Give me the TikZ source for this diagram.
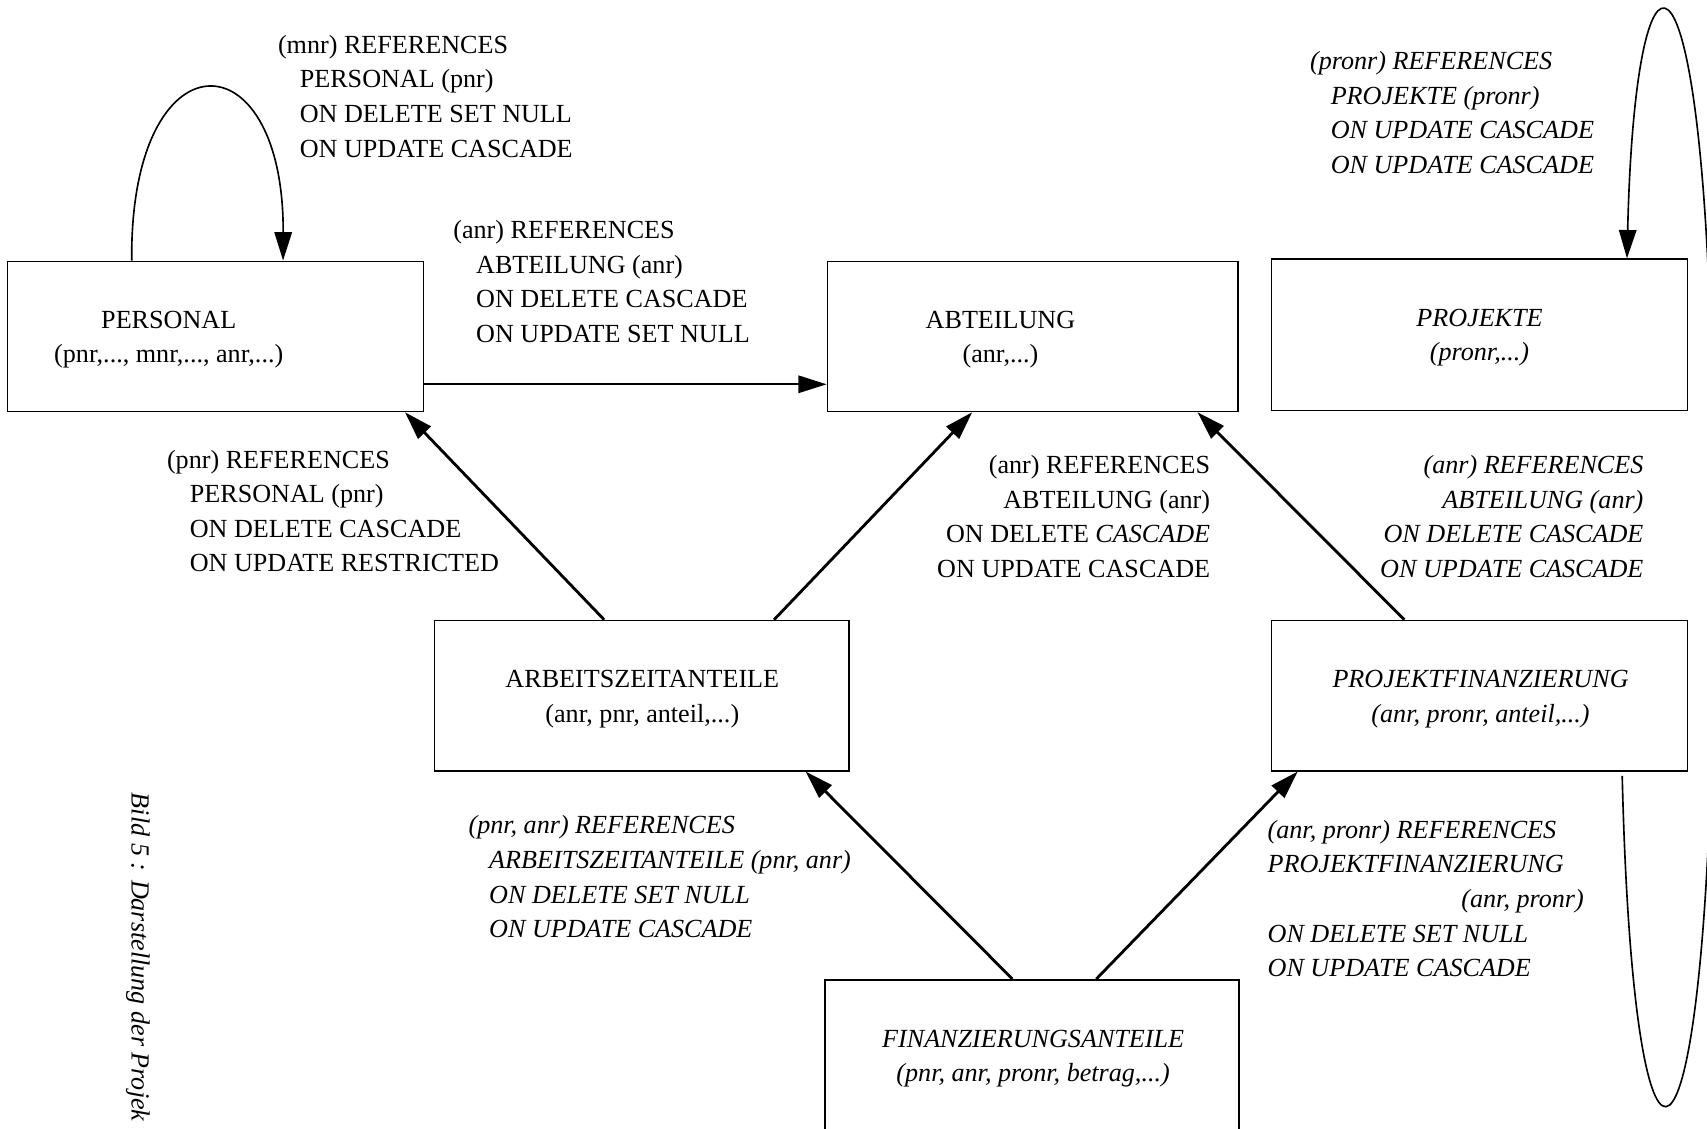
\documentclass[tikz,border=0pt]{standalone}
\usepackage{fontspec}
\setmainfont{Liberation Serif}
\usetikzlibrary{arrows.meta}

\tikzset{
  tbox/.style={draw, line width=0.7pt, inner sep=0pt},
  btext/.style={inner sep=0pt, anchor=center, font=\fontsize{12}{15.9}\selectfont},
  lbl/.style={inner sep=0pt, anchor=base west, font=\fontsize{12}{15.9}\selectfont},
  rlbl/.style={inner sep=0pt, anchor=base east, font=\fontsize{12}{15.9}\selectfont},
  tip/.style={-{Triangle[length=13pt, width=8pt]}},
  fk/.style={tip, line width=1.3pt},
  fkthin/.style={tip, line width=0.9pt},
  selfref/.style={tip, line width=0.75pt},
}

\begin{document}
\begin{tikzpicture}[x=0.5pt, y=-0.5pt]
\useasboundingbox (0,0) rectangle (1568,1037);
\clip (0,0) rectangle (1568,1037);

% tables
\node[tbox, minimum width=191pt,   minimum height=69pt]   (P)  at (198,309)    {};
\node[tbox, minimum width=188.5pt, minimum height=69pt]   (A)  at (948.5,309)  {};
\node[tbox, minimum width=191pt,   minimum height=69.5pt] (PR) at (1359,307.5) {};
\node[tbox, minimum width=190.5pt, minimum height=69pt]   (AZ) at (589.5,639)  {};
\node[tbox, minimum width=191pt,   minimum height=69pt]   (PF) at (1359,639)   {};
\node[tbox, minimum width=190pt,   minimum height=90pt]   (FA) at (948,990)    {};

% table names and columns
\node[btext] (Pt)  at (155,311)  {\begin{tabular}{@{}c@{}}PERSONAL\\(pnr,..., mnr,..., anr,...)\end{tabular}};
\node[btext] (At)  at (919,311)  {\begin{tabular}{@{}c@{}}ABTEILUNG\\(anr,...)\end{tabular}};
\node[btext] (PRt) at (1359,309) {\itshape\begin{tabular}{@{}c@{}}PROJEKTE\\(pronr,...)\end{tabular}};
\node[btext] (AZt) at (590,641)  {\begin{tabular}{@{}c@{}}ARBEITSZEITANTEILE\\(anr, pnr, anteil,...)\end{tabular}};
\node[btext] (PFt) at (1360,641) {\itshape\begin{tabular}{@{}c@{}}PROJEKTFINANZIERUNG\\(anr, pronr, anteil,...)\end{tabular}};
\node[btext] (FAt) at (949,971.5){\itshape\begin{tabular}{@{}c@{}}FINANZIERUNGSANTEILE\\(pnr, anr, pronr, betrag,...)\end{tabular}};

% foreign keys
\draw[selfref] (121,0 |- P.north) .. controls (119,30) and (261,30) .. (260,0 |- P.north);
\draw[fkthin] (P.east |- 0,353) -- (A.west |- 0,353);
\draw[fk] (555,0 |- AZ.north) -- (372,0 |- P.south);
\draw[fk] (711,0 |- AZ.north) -- (893,0 |- A.south);
\draw[fk] (1290,0 |- PF.north) -- (1100,0 |- A.south);
\draw[fk] (930,0 |- FA.north) -- (740,0 |- AZ.south);
\draw[fk] (1007,0 |- FA.north) -- (1192,0 |- PF.south);
\draw[selfref, shorten <=2pt] (1490,0 |- PF.south)
   .. controls (1500,1120) and (1560,1120) .. (1572,700) -- (1572,330)
   .. controls (1562,-78) and (1502,-78) .. (1494.5,0 |- PR.north);

% constraint texts
\node[lbl] (c1) at (255,49) {\begin{tabular}[t]{@{}l@{}}(mnr) REFERENCES\\
  \hspace*{10pt}PERSONAL (pnr)\\ \hspace*{10pt}ON DELETE SET NULL\\ \hspace*{10pt}ON UPDATE CASCADE\end{tabular}};
\node[lbl] (c2) at (416,219) {\begin{tabular}[t]{@{}l@{}}(anr) REFERENCES\\
  \hspace*{10.5pt}ABTEILUNG (anr)\\ \hspace*{10.5pt}ON DELETE CASCADE\\ \hspace*{10.5pt}ON UPDATE SET NULL\end{tabular}};
\node[lbl] (c3) at (153,430) {\begin{tabular}[t]{@{}l@{}}(pnr) REFERENCES\\
  \hspace*{10.5pt}PERSONAL (pnr)\\ \hspace*{10.5pt}ON DELETE CASCADE\\ \hspace*{10.5pt}ON UPDATE RESTRICTED\end{tabular}};
\node[rlbl] (c4) at (1112,435) {\begin{tabular}[t]{@{}r@{}}(anr) REFERENCES\\
  ABTEILUNG (anr)\\ ON DELETE \textit{CASCADE}\\ ON UPDATE CASCADE\end{tabular}};
\node[rlbl] (c5) at (1510,435) {\itshape\begin{tabular}[t]{@{}r@{}}(anr) REFERENCES\\
  ABTEILUNG (anr)\\ ON DELETE CASCADE\\ ON UPDATE CASCADE\end{tabular}};
\node[lbl] (c6) at (1203,64) {\itshape\begin{tabular}[t]{@{}l@{}}(pronr) REFERENCES\\
  \hspace*{9.5pt}PROJEKTE (pronr)\\ \hspace*{9.5pt}ON UPDATE CASCADE\\ \hspace*{9.5pt}ON UPDATE CASCADE\end{tabular}};
\node[lbl] (c7) at (430,766) {\itshape\begin{tabular}[t]{@{}l@{}}(pnr, anr) REFERENCES\\
  \hspace*{9.5pt}ARBEITSZEITANTEILE (pnr, anr)\\ \hspace*{9.5pt}ON DELETE SET NULL\\ \hspace*{9.5pt}ON UPDATE CASCADE\end{tabular}};
\node[lbl] (c8) at (1164,770) {\itshape\begin{tabular}[t]{@{}l@{}}(anr, pronr) REFERENCES\\
  PROJEKTFINANZIERUNG\\ \hspace*{89pt}(anr, pronr)\\ ON DELETE SET NULL\\ ON UPDATE CASCADE\end{tabular}};

% figure caption, running down the left margin
\node[lbl, rotate=-90] (cap) at (121,728) {\itshape Bild 5 : Darstellung der Projek};
\end{tikzpicture}
\end{document}
